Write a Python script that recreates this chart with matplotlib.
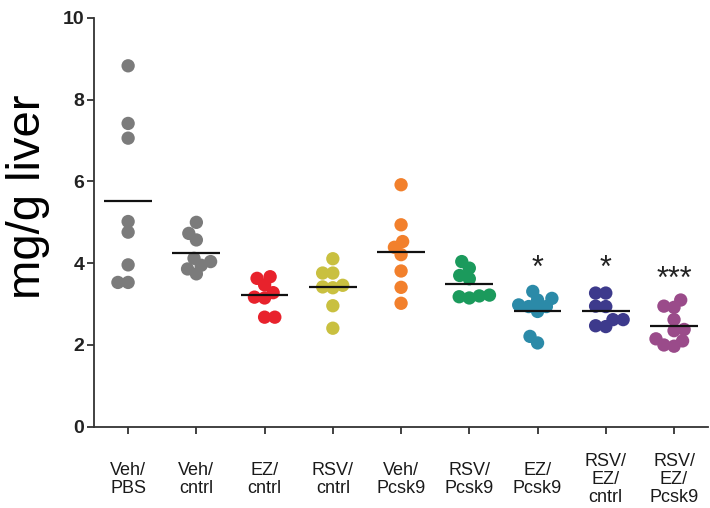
import numpy as np
import pandas as pd
import matplotlib
matplotlib.use('Agg')
import matplotlib.pyplot as plt
import seaborn as sns

# group labels and values (mg/g liver)
groups = ['Veh/\nPBS', 'Veh/\ncntrl', 'EZ/\ncntrl', 'RSV/\ncntrl', 'Veh/\nPcsk9',
          'RSV/\nPcsk9', 'EZ/\nPcsk9', 'RSV/\nEZ/\ncntrl', 'RSV/\nEZ/\nPcsk9']
veh_pbs = [8.83, 7.42, 7.06, 5.02, 4.76, 3.96, 3.53, 3.53]
veh_cntrl = [5.0, 4.73, 4.57, 4.12, 4.04, 3.95, 3.86, 3.74]
ez_cntrl = [3.67, 3.63, 3.47, 3.28, 3.17, 3.15, 2.68, 2.68]
rsv_cntrl = [4.11, 3.76, 3.76, 3.46, 3.42, 3.40, 2.96, 2.41]
veh_pcsk9 = [5.92, 4.94, 4.53, 4.39, 4.21, 3.81, 3.41, 3.02]
rsv_pcsk9 = [4.04, 3.88, 3.70, 3.62, 3.22, 3.20, 3.18, 3.15]
ez_pcsk9 = [3.31, 3.14, 3.10, 2.98, 2.94, 2.94, 2.82, 2.21, 2.05]
rsv_ez_cntrl = [3.27, 3.27, 2.95, 2.94, 2.62, 2.62, 2.47, 2.45]
rsv_ez_pcsk9 = [3.10, 2.95, 2.92, 2.62, 2.38, 2.35, 2.15, 2.10, 2.00, 1.97]
all_vals = [veh_pbs, veh_cntrl, ez_cntrl, rsv_cntrl, veh_pcsk9,
            rsv_pcsk9, ez_pcsk9, rsv_ez_cntrl, rsv_ez_pcsk9]
colors = ['#7b7b7b', '#7b7b7b', '#e8222c', '#c9c040', '#f2802c',
          '#1b9a5c', '#2b8aa8', '#3d3a8c', '#9a4b8a']
stars = ['', '', '', '', '', '', '*', '*', '***']
star_y = [0, 0, 0, 0, 0, 0, 3.85, 3.85, 3.58]

df = pd.DataFrame({'group': np.repeat(groups, [len(v) for v in all_vals]),
                   'value': np.concatenate(all_vals)})

plt.rcParams['font.family'] = ['Liberation Sans', 'DejaVu Sans']

fig = plt.figure(figsize=(7.1, 5.08), dpi=100)
ax = fig.add_axes([0.1324, 0.160, 0.865, 0.8046])
ax.set_xlim(-0.5, 8.5)
ax.set_ylim(0, 10)

# lay out the swarm with slightly small dots, then redraw bigger so they overlap a bit
sns.swarmplot(data=df, x='group', y='value', hue='group', order=groups,
              hue_order=groups, palette=colors, size=7, linewidth=0,
              legend=False, ax=ax)
ax.set_xlim(-0.5, 8.5)
ax.set_ylim(0, 10)
fig.canvas.draw()
for coll in list(ax.collections):
    xy = coll.get_offsets()
    fc = coll.get_facecolors()
    coll.remove()
    if len(xy):
        ax.scatter(xy[:, 0], xy[:, 1], s=92, c=fc, linewidths=0, zorder=3)

# mean lines
for i, v in enumerate(all_vals):
    ax.hlines(np.mean(v), i - 0.35, i + 0.35, color='#111111', lw=1.6, zorder=5)

for i, s in enumerate(stars):
    if s:
        ax.text(i, star_y[i], s, ha='center', va='center', fontsize=22, color='#222222')

ax.set_xlim(-0.5, 8.5)
ax.set_ylim(0, 10)
ax.set_yticks([0, 2, 4, 6, 8, 10])
ax.set_xticks(range(len(groups)))
ax.set_xticklabels(groups, fontsize=13, linespacing=1.1)
for t in ax.get_xticklabels():
    t.set_verticalalignment('center')
ax.tick_params(axis='x', length=5, width=1.3, pad=33, colors='#333333', labelcolor='#1a1a1a')
ax.tick_params(axis='y', length=5, width=1.3, labelsize=14, pad=2, colors='#333333', labelcolor='#222222')
for t in ax.get_yticklabels():
    t.set_fontweight('bold')

ax.set_xlabel('')
ax.set_ylabel('mg/g liver', fontsize=34)
ax.yaxis.set_label_coords(-0.072, 0.562)
ax.spines['top'].set_visible(False)
ax.spines['right'].set_visible(False)
for sp in ['left', 'bottom']:
    ax.spines[sp].set_linewidth(1.3)
    ax.spines[sp].set_color('#333333')

fig.savefig('out.png', dpi=100)
